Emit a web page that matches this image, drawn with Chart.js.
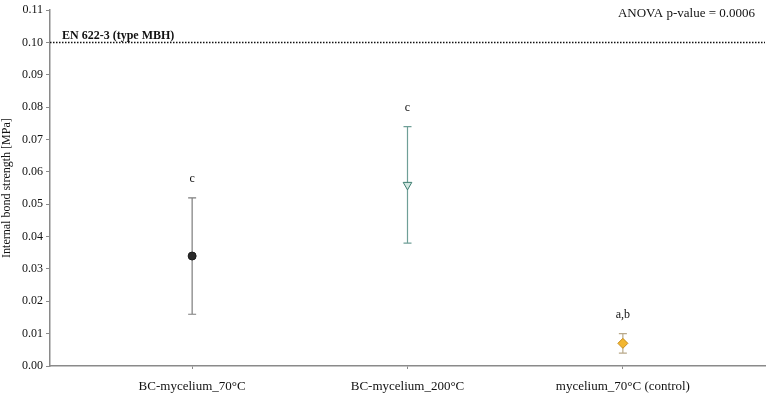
<!DOCTYPE html>
<html>
<head>
<meta charset="utf-8">
<script src="https://cdn.jsdelivr.net/npm/chart.js@4.4.1/dist/chart.umd.min.js"></script>
<style>
  html, body { margin: 0; padding: 0; background: #fff; overflow: hidden; }
  #wrap { width: 771px; height: 403px; position: relative; }
</style>
</head>
<body>
<div id="wrap"><canvas id="ibChart"></canvas></div>
<script>
// data
const categories = ['BC-mycelium_70°C', 'BC-mycelium_200°C', 'mycelium_70°C (control)'];
const means = [0.034, 0.056, 0.007];
const errUpper = [0.052, 0.074, 0.010];
const errLower = [0.016, 0.038, 0.004];
const groupLetters = ['c', 'c', 'a,b'];
const yTicks = [0, 0.01, 0.02, 0.03, 0.04, 0.05, 0.06, 0.07, 0.08, 0.09, 0.10, 0.11];
const standardValue = 0.10;
const standardLabel = 'EN 622-3 (type MBH)';
const anovaText = 'ANOVA p-value = 0.0006';

const SERIF = '"Liberation Serif", "DejaVu Serif", serif';

const styles = [
  { pointStyle: 'circle', radius: 4, fill: '#2a2a2a', border: '#1a1a1a', rotation: 0, bar: '#7d7d7d' },
  { pointStyle: 'triangle', radius: 5, fill: '#d3e8e2', border: '#3d7d70', rotation: 180, bar: '#6f9f97' },
  { pointStyle: 'rectRot', radius: 5, fill: '#f2b631', border: '#c88d1b', rotation: 0, bar: '#b9a98a' }
];

const datasets = categories.map((name, i) => ({
  label: name,
  data: [{ x: i + 1, y: means[i] }],
  pointStyle: styles[i].pointStyle,
  pointRadius: styles[i].radius,
  pointRotation: styles[i].rotation,
  backgroundColor: styles[i].fill,
  borderColor: styles[i].border,
  borderWidth: 1,
  showLine: false
}));

/* --- error bars, letters, reference line, notes --- */
const extras = {
  id: 'extras',
  beforeDatasetsDraw(chart) {
    const { ctx, scales: { x, y } } = chart;
    ctx.save();
    categories.forEach((c, i) => {
      const px = x.getPixelForValue(i + 1);
      const top = y.getPixelForValue(errUpper[i]);
      const bot = y.getPixelForValue(errLower[i]);
      ctx.strokeStyle = styles[i].bar;
      ctx.lineWidth = 1.2;
      ctx.beginPath();
      ctx.moveTo(px, top); ctx.lineTo(px, bot);
      ctx.moveTo(px - 4, top); ctx.lineTo(px + 4, top);
      ctx.moveTo(px - 4, bot); ctx.lineTo(px + 4, bot);
      ctx.stroke();
    });
    ctx.restore();
  },
  afterDatasetsDraw(chart) {
    const { ctx, chartArea, scales: { x, y } } = chart;
    ctx.save();
    // standard threshold line
    const ly = y.getPixelForValue(standardValue);
    ctx.strokeStyle = '#111';
    ctx.lineWidth = 1.5;
    ctx.setLineDash([1.5, 1.5]);
    ctx.beginPath();
    ctx.moveTo(chartArea.left, ly);
    ctx.lineTo(chartArea.right, ly);
    ctx.stroke();
    ctx.setLineDash([]);

    ctx.fillStyle = '#111';
    ctx.font = 'bold 12px ' + SERIF;
    ctx.textAlign = 'left';
    ctx.textBaseline = 'alphabetic';
    ctx.fillText(standardLabel, chartArea.left + 12, ly - 4);

    ctx.font = '13px ' + SERIF;
    ctx.textAlign = 'right';
    ctx.fillText(anovaText, 755, 17);

    // significance letters
    ctx.textAlign = 'center';
    ctx.font = '12px ' + SERIF;
    groupLetters.forEach((t, i) => {
      const px = x.getPixelForValue(i + 1);
      const top = y.getPixelForValue(errUpper[i]);
      ctx.fillText(t, px, top - 16);
    });
    ctx.restore();
  }
};

new Chart(document.getElementById('ibChart'), {
  type: 'scatter',
  data: { datasets },
  options: {
    responsive: true,
    maintainAspectRatio: false,
    animation: false,
    layout: { padding: { top: 8, right: 0, left: 0, bottom: 0 } },
    plugins: {
      legend: { display: false },
      tooltip: { enabled: false }
    },
    scales: {
      x: {
        type: 'linear',
        min: 0.34,
        max: 3.66,
        afterBuildTicks: (s) => { s.ticks = categories.map((c, i) => ({ value: i + 1 })); },
        afterFit: (s) => { s.height = 37; },
        border: { color: '#8a8a8a', width: 1.5 },
        grid: { drawOnChartArea: false, drawTicks: true, tickLength: 3, color: '#8a8a8a' },
        ticks: {
          color: '#111',
          padding: 10,
          maxRotation: 0,
          font: { family: SERIF, size: 13 },
          callback: (v) => categories[v - 1] || ''
        }
      },
      y: {
        min: 0,
        max: 0.11,
        afterBuildTicks: (s) => { s.ticks = yTicks.map(v => ({ value: v })); },
        afterFit: (s) => { s.width = 50; },
        border: { color: '#8a8a8a', width: 1.5 },
        grid: { drawOnChartArea: false, drawTicks: true, tickLength: 4, color: '#8a8a8a' },
        title: {
          display: true,
          text: 'Internal bond strength [MPa]',
          color: '#111',
          font: { family: SERIF, size: 12 },
          padding: { top: 0, bottom: 0 }
        },
        ticks: {
          color: '#111',
          padding: 3,
          font: { family: SERIF, size: 12 },
          callback: (v) => v.toFixed(2)
        }
      }
    }
  },
  plugins: [extras]
});
</script>
</body>
</html>
